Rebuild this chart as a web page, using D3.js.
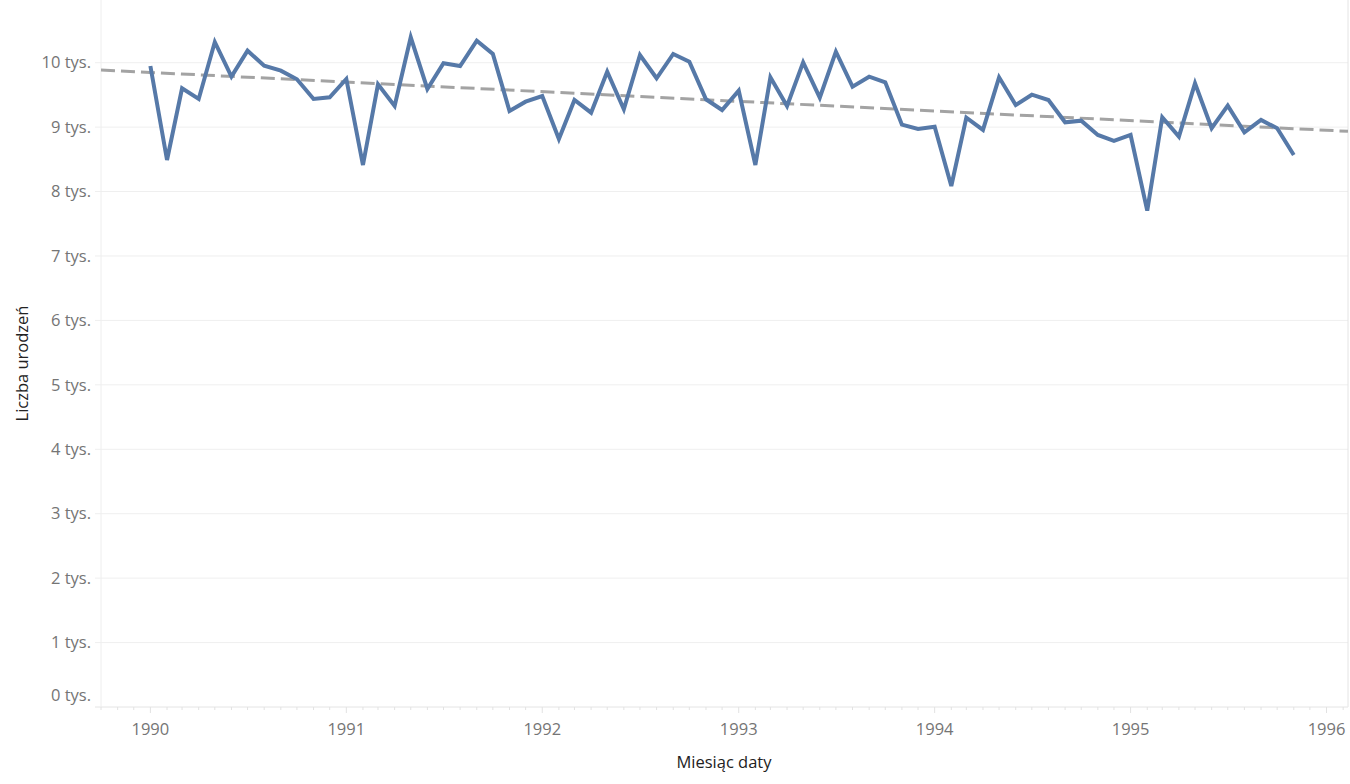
<!DOCTYPE html>
<html>
<head>
<meta charset="utf-8">
<script src="https://cdn.jsdelivr.net/npm/d3@7"></script>
<style>
  body { margin: 0; background: #fff; }
  svg { display: block; font-family: "Open Sans", sans-serif; }
</style>
</head>
<body>
<div id="plot"></div>
<script>
// monthly births, Jan 1990 - Nov 1995
var startMonth = [1990, 0];
var births = [
  9949, 8490, 9603, 9437, 10321, 9783, 10186, 9953, 9876, 9742, 9437, 9463,
  9747, 8412, 9665, 9328, 10394, 9592, 9991, 9949, 10341, 10135, 9250, 9395,
  9483, 8816, 9421, 9224, 9860, 9277, 10119, 9758, 10135, 10016, 9432, 9266,
  9566, 8412, 9773, 9328, 10006, 9457, 10171, 9628, 9783, 9696, 9038, 8971,
  9007, 8087, 9147, 8956, 9773, 9344, 9503, 9421, 9075, 9100, 8878, 8785,
  8878, 7703, 9153, 8852, 9680, 8982, 9333, 8920, 9111, 8982, 8568
];
var yTicks = [0, 1000, 2000, 3000, 4000, 5000, 6000, 7000, 8000, 9000, 10000];
var xTickYears = [1990, 1991, 1992, 1993, 1994, 1995, 1996];

var data = births.map(function (v, i) {
  return { date: new Date(startMonth[0], startMonth[1] + i, 1), value: v };
});

var W = 1350, H = 784;
var margin = { t: 0, r: 2, b: 77, l: 101 };
var width = W - margin.l - margin.r,
    height = H - margin.t - margin.b;

var svg = d3.select('#plot')
  .append('svg')
  .attr('width', W)
  .attr('height', H);

var plot = svg.append('g')
  .attr('transform', 'translate(' + margin.l + ',' + margin.t + ')');

var x = d3.scaleTime()
  .domain([new Date(1989, 9, 1), new Date(1996, 1, 10)])
  .range([0, width]);

var y = d3.scaleLinear()
  .domain([0, 10973])
  .range([height, 0]);

// gridlines
plot.append('g')
  .selectAll('line')
  .data(yTicks)
  .enter()
  .append('line')
  .attr('x1', -6)
  .attr('x2', width)
  .attr('y1', function (d) { return y(d); })
  .attr('y2', function (d) { return y(d); })
  .style('stroke', '#efefef')
  .style('stroke-width', 1);

// frame lines
plot.append('line')
  .attr('x1', 0).attr('x2', 0)
  .attr('y1', 0).attr('y2', height)
  .style('stroke', '#eeeeee');
plot.append('line')
  .attr('x1', width).attr('x2', width)
  .attr('y1', 0).attr('y2', height)
  .style('stroke', '#e4e4e4');

// y tick labels
plot.append('g')
  .selectAll('text')
  .data(yTicks)
  .enter()
  .append('text')
  .attr('x', -10)
  .attr('y', function (d) { return d === 0 ? y(d) - 12 : y(d); })
  .attr('dy', '0.35em')
  .attr('text-anchor', 'end')
  .style('font-size', '16.5px')
  .style('fill', '#757575')
  .text(function (d) { return (d / 1000) + ' tys.'; });

// x axis
var xAxis = plot.append('g')
  .attr('transform', 'translate(0,' + height + ')');

xAxis.append('line')
  .attr('x1', -6).attr('x2', width)
  .style('stroke', '#ececec');

var months = d3.timeMonth.range(x.domain()[0], x.domain()[1]);
xAxis.selectAll('line.minor')
  .data(months)
  .enter()
  .append('line')
  .attr('class', 'minor')
  .attr('x1', function (d) { return x(d); })
  .attr('x2', function (d) { return x(d); })
  .attr('y1', 0)
  .attr('y2', function (d) { return d.getMonth() === 0 ? 6 : 3; })
  .style('stroke', '#e2e2e2');

xAxis.selectAll('text')
  .data(xTickYears)
  .enter()
  .append('text')
  .attr('x', function (d) { return x(new Date(d, 0, 1)); })
  .attr('y', 22)
  .attr('dy', '0.35em')
  .attr('text-anchor', 'middle')
  .style('font-size', '16.5px')
  .style('fill', '#757575')
  .text(function (d) { return d; });

// axis titles
svg.append('text')
  .attr('transform', 'translate(22,' + (height / 2 + 10) + ') rotate(-90)')
  .attr('dy', '0.35em')
  .attr('text-anchor', 'middle')
  .style('font-size', '16.5px')
  .style('fill', '#222')
  .text('Liczba urodzeń');

svg.append('text')
  .attr('x', 724)
  .attr('y', 762)
  .attr('dy', '0.35em')
  .attr('text-anchor', 'middle')
  .style('font-size', '16.5px')
  .style('fill', '#222')
  .text('Miesiąc daty');

// linear trend (least squares on time)
var xs = data.map(function (d) { return +d.date; });
var ys = data.map(function (d) { return d.value; });
var mx = d3.mean(xs), my = d3.mean(ys);
var sxy = d3.sum(xs, function (v, i) { return (v - mx) * (ys[i] - my); });
var sxx = d3.sum(xs, function (v) { return (v - mx) * (v - mx); });
var slope = sxy / sxx, icpt = my - slope * mx;
var trend = x.domain().map(function (d) {
  return { date: d, value: icpt + slope * (+d) };
});

var line = d3.line()
  .x(function (d) { return x(d.date); })
  .y(function (d) { return y(d.value); });

plot.append('path')
  .datum(trend)
  .attr('d', line)
  .style('fill', 'none')
  .style('stroke', '#a3a3a3')
  .style('stroke-width', 3)
  .style('stroke-dasharray', '14,6');

plot.append('path')
  .datum(data)
  .attr('d', line)
  .style('fill', 'none')
  .style('stroke', '#5679a8')
  .style('stroke-width', 4)
  .style('stroke-linejoin', 'miter');
</script>
</body>
</html>
